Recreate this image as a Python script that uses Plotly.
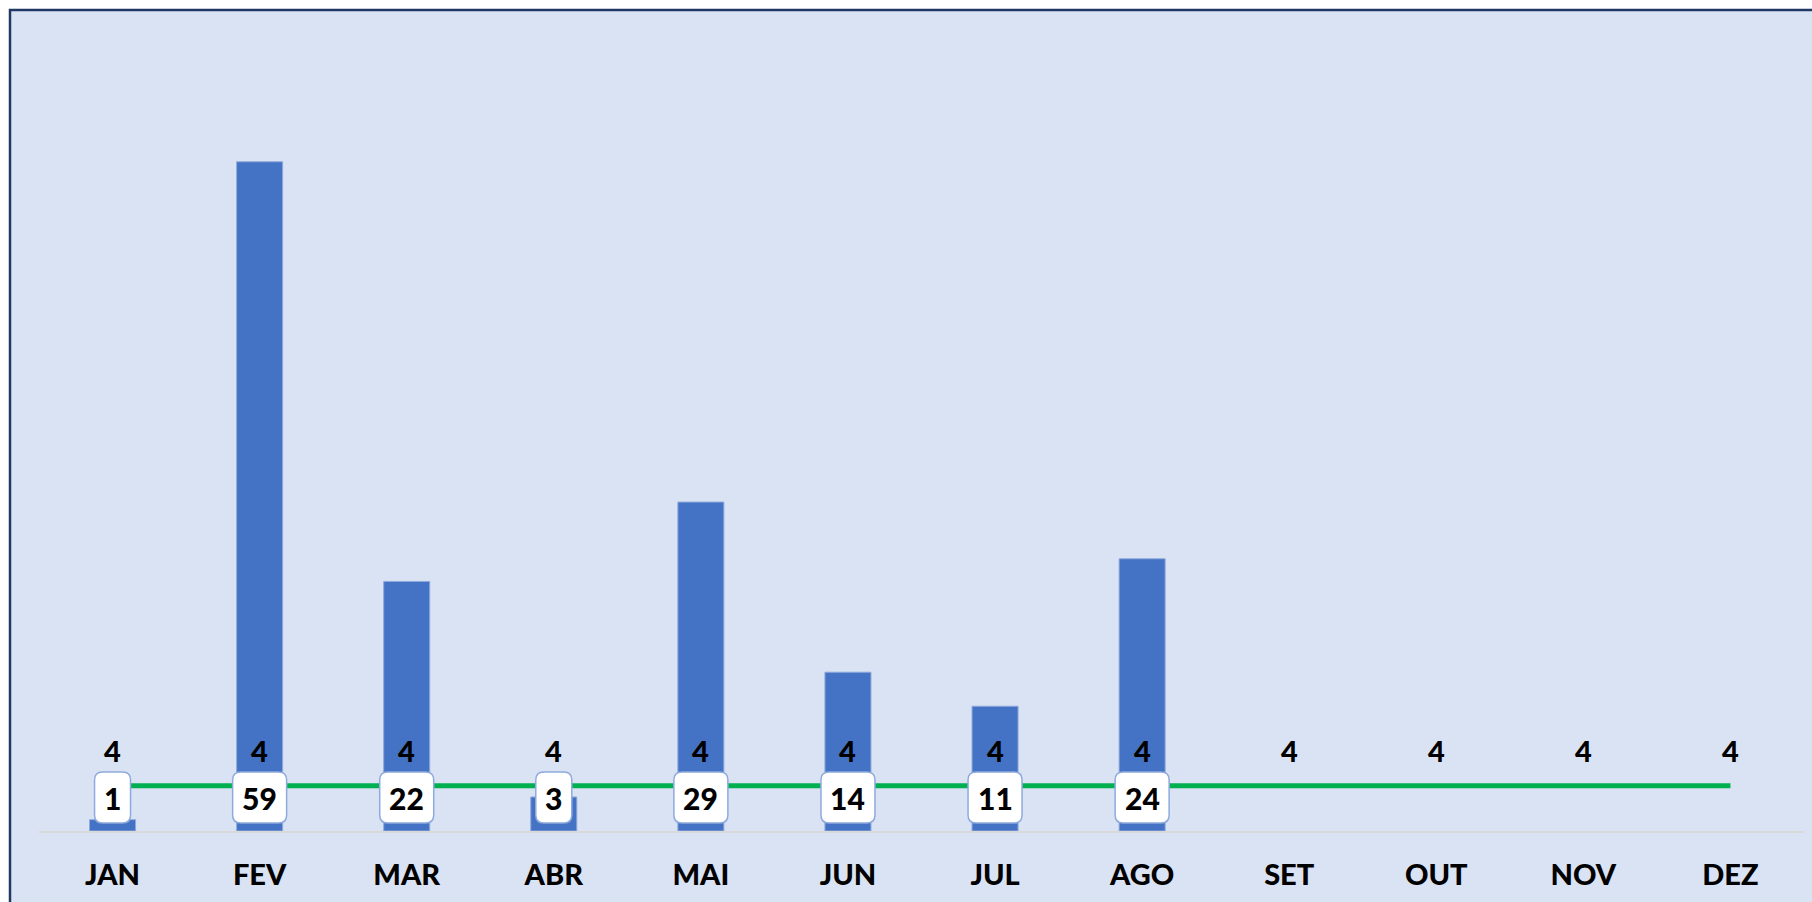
import plotly.graph_objects as go

months = ["JAN", "FEV", "MAR", "ABR", "MAI", "JUN", "JUL", "AGO", "SET", "OUT", "NOV", "DEZ"]
values = [1, 59, 22, 3, 29, 14, 11, 24, None, None, None, None]
meta = [4, 4, 4, 4, 4, 4, 4, 4, 4, 4, 4, 4]

W, H = 1812, 902
ML, MR, MT, MB = 39, 8, 37, 71
PW, PH = W - ML - MR, H - MT - MB

FONT = dict(family="Lato", size=29, color="#000000", weight=900)
BOXFONT = dict(family="Lato", size=30, color="#000000", weight=900)

fig = go.Figure()
fig.add_trace(go.Bar(
    x=months, y=values,
    marker=dict(color="#4472C4", line=dict(color="#8FAADC", width=1)),
    width=0.313, hoverinfo="x+y", showlegend=False,
))
fig.add_trace(go.Scatter(
    x=months, y=meta, mode="lines",
    line=dict(color="#00B050", width=5),
    hoverinfo="x+y", showlegend=False,
))

shapes = []
# chart area background + border
shapes.append(dict(
    type="rect", xref="paper", yref="paper",
    x0=(10 - ML) / PW, x1=1.2, y0=-0.3, y1=(H - MB - 10) / PH,
    fillcolor="#DAE3F3", line=dict(color="#203864", width=2.5), layer="below",
))

def rounded_box(hw, yb, yt, r):
    return (f"M {-hw},{yb + r} L {-hw},{yt - r} Q {-hw},{yt} {-hw + r},{yt} "
            f"L {hw - r},{yt} Q {hw},{yt} {hw},{yt - r} "
            f"L {hw},{yb + r} Q {hw},{yb} {hw - r},{yb} "
            f"L {-hw + r},{yb} Q {-hw},{yb} {-hw},{yb + r} Z")

annotations = []
for m, v in zip(months, values):
    if v is None:
        continue
    hw = 18 if len(str(v)) == 1 else 27
    shapes.append(dict(
        type="path", xref="x", yref="y",
        xsizemode="pixel", ysizemode="pixel", xanchor=m, yanchor=0,
        path=rounded_box(hw, 8, 59, 8),
        fillcolor="#FFFFFF", line=dict(color="#8FAADC", width=1.5), layer="above",
    ))
    annotations.append(dict(
        x=m, y=0, yshift=33, text=str(v), showarrow=False,
        yanchor="middle", xanchor="center", font=BOXFONT,
    ))

for m, v in zip(months, meta):
    annotations.append(dict(
        x=m, y=v, yshift=35, text=str(v), showarrow=False,
        yanchor="middle", xanchor="center", font=FONT,
    ))

fig.update_layout(
    width=W, height=H,
    margin=dict(l=ML, r=MR, t=MT, b=MB),
    paper_bgcolor="#FFFFFF", plot_bgcolor="rgba(0,0,0,0)",
    shapes=shapes, annotations=annotations,
    bargap=0.687, showlegend=False,
    xaxis=dict(
        type="category", range=[-0.5, 11.5],
        showline=True, linecolor="#D9D9D9", linewidth=1.5,
        showgrid=False, zeroline=False, ticks="",
        tickfont=FONT, ticklabelstandoff=17,
    ),
    yaxis=dict(
        range=[0, 70], showgrid=False, zeroline=False,
        showticklabels=False, showline=False,
    ),
)

fig.write_html(
    "out.html",
    config={"displayModeBar": False},
    post_script="document.body.style.margin='0';document.body.style.overflow='hidden';",
)
